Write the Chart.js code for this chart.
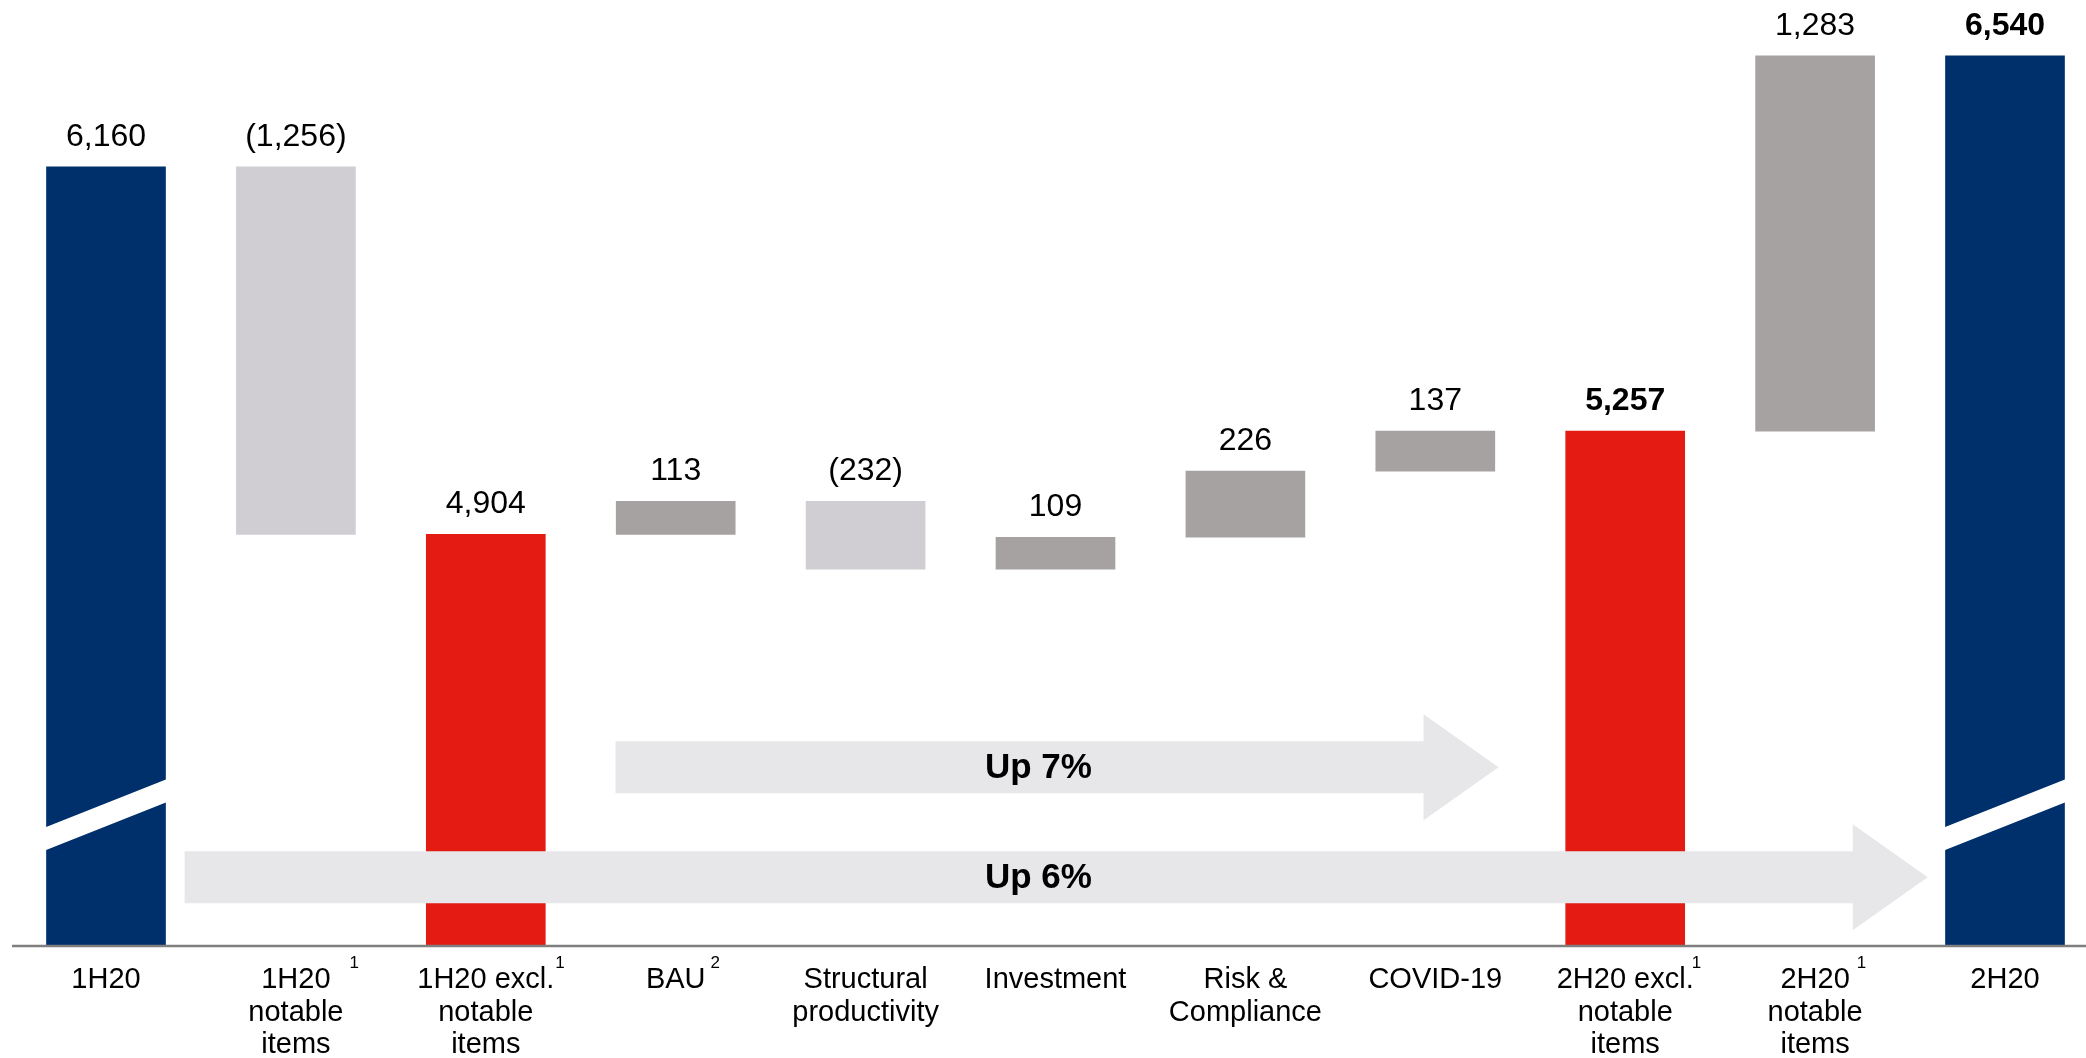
<!DOCTYPE html>
<html>
<head>
<meta charset="utf-8">
<script src="https://cdn.jsdelivr.net/npm/chart.js@4.4.1/dist/chart.umd.min.js"></script>
<style>
  html, body { margin: 0; padding: 0; background: #fff; }
  canvas { display: block; }
</style>
</head>
<body>
<canvas id="chart" width="2086" height="1058"></canvas>
<script>
// categories along the x axis (multi-line labels) and their footnote marks
const categories = [
  ['1H20'],
  ['1H20', 'notable', 'items'],
  ['1H20 excl.', 'notable', 'items'],
  ['BAU'],
  ['Structural', 'productivity'],
  ['Investment'],
  ['Risk &', 'Compliance'],
  ['COVID-19'],
  ['2H20 excl.', 'notable', 'items'],
  ['2H20', 'notable', 'items'],
  ['2H20']
]
const notes = ['', '1', '1', '2', '', '', '', '', '1', '1', '']

// totals / subtotals are levels, steps are changes
const kinds = ['total', 'step', 'subtotal', 'step', 'step', 'step', 'step', 'step', 'subtotal', 'step', 'total']
const values = [6160, -1256, 4904, 113, -232, 109, 226, 137, 5257, 1283, 6540]

// broken value axis
const axisMin = 3500
const axisMax = 6700
const breakLevel = 3945

// growth arrows, positions in category units and value units
const arrowLabels = ['Up 7%', 'Up 6%']
const arrowFrom = [2.683, 0.414]
const arrowTo = [7.333, 9.593]
const arrowLevel = [4108, 3732]
const arrowTextAt = [4.91, 4.91]

const FONT = '"Liberation Sans", Arial, sans-serif'
const NAVY = '#00306b'
const RED = '#e31b13'
const UP_GREY = '#a6a2a1'
const DOWN_GREY = '#d0ced3'
const ARROW_GREY = '#e7e6e9'

let running = 0
const ranges = values.map((v, i) => {
  if (kinds[i] !== 'step') {
    running = v
    return [axisMin, v]
  }
  const start = running
  running += v
  return [Math.min(start, running), Math.max(start, running)]
})

const colors = values.map((v, i) => {
  if (kinds[i] === 'total') return NAVY
  if (kinds[i] === 'subtotal') return RED
  return v < 0 ? DOWN_GREY : UP_GREY
})

const fmt = v => {
  const s = Math.abs(v).toLocaleString('en-US')
  return v < 0 ? '(' + s + ')' : s
}
const bold = [8, 10]
// space between label text and its footnote mark (as in the slide)
const noteGap = {1: 19, 2: 1, 3: 5, 8: -2, 9: 7}

const waterfallExtras = {
  id: 'waterfallExtras',
  afterDatasetsDraw(chart) {
    const {ctx, chartArea, scales: {x, y}} = chart
    const meta = chart.getDatasetMeta(0)
    ctx.save()

    // axis-break slashes on the full bars
    meta.data.forEach((bar, i) => {
      if (kinds[i] !== 'total') return
      const l = bar.x - bar.width / 2 - 1
      const r = bar.x + bar.width / 2 + 1
      const cy = y.getPixelForValue(breakLevel)
      ctx.fillStyle = '#ffffff'
      ctx.beginPath()
      ctx.moveTo(l, cy + 24 - 11.5)
      ctx.lineTo(r, cy - 24 - 11.5)
      ctx.lineTo(r, cy - 24 + 11.5)
      ctx.lineTo(l, cy + 24 + 11.5)
      ctx.closePath()
      ctx.fill()
    })

    // arrows
    arrowLabels.forEach((text, k) => {
      const x0 = x.getPixelForValue(arrowFrom[k])
      const x1 = x.getPixelForValue(arrowTo[k])
      const cy = y.getPixelForValue(arrowLevel[k])
      const body = 26, head = 53, headLen = 75
      ctx.fillStyle = ARROW_GREY
      ctx.beginPath()
      ctx.moveTo(x0, cy - body)
      ctx.lineTo(x1 - headLen, cy - body)
      ctx.lineTo(x1 - headLen, cy - head)
      ctx.lineTo(x1, cy)
      ctx.lineTo(x1 - headLen, cy + head)
      ctx.lineTo(x1 - headLen, cy + body)
      ctx.lineTo(x0, cy + body)
      ctx.closePath()
      ctx.fill()
      ctx.fillStyle = '#000'
      ctx.font = 'bold 35px ' + FONT
      ctx.textAlign = 'center'
      ctx.textBaseline = 'middle'
      ctx.fillText(text, x.getPixelForValue(arrowTextAt[k]), cy + 1)
    })

    // value labels
    meta.data.forEach((bar, i) => {
      const top = y.getPixelForValue(ranges[i][1])
      ctx.fillStyle = '#000'
      ctx.font = (bold.includes(i) ? 'bold ' : '') + '32px ' + FONT
      ctx.textAlign = 'center'
      ctx.textBaseline = 'middle'
      ctx.fillText(fmt(values[i]), bar.x, top - 30)
    })

    // baseline
    ctx.strokeStyle = '#7f7f7f'
    ctx.lineWidth = 2.5
    ctx.beginPath()
    ctx.moveTo(12, chartArea.bottom + 1)
    ctx.lineTo(chart.width, chartArea.bottom + 1)
    ctx.stroke()

    // footnote marks next to first label line
    ctx.textAlign = 'left'
    ctx.textBaseline = 'middle'
    notes.forEach((n, i) => {
      if (!n) return
      const line = categories[i][0]
      ctx.font = '29px ' + FONT
      const w = ctx.measureText(line).width
      ctx.font = '17px ' + FONT
      ctx.fillStyle = '#000'
      ctx.fillText(n, x.getPixelForTick(i) + w / 2 + (noteGap[i] || 0), chartArea.bottom + 18)
    })
    ctx.restore()
  }
}

new Chart(document.getElementById('chart'), {
  type: 'bar',
  data: {
    labels: categories,
    datasets: [{
      data: ranges,
      backgroundColor: colors,
      borderWidth: 0,
      barThickness: 119,
      clip: false
    }]
  },
  options: {
    responsive: false,
    animation: false,
    layout: {padding: {left: 106, right: 81, top: 9, bottom: 0}},
    plugins: {
      legend: {display: false},
      tooltip: {enabled: false}
    },
    scales: {
      x: {
        offset: false,
        grid: {display: false, drawTicks: false},
        border: {display: false},
        ticks: {
          color: '#000',
          padding: 19,
          maxRotation: 0,
          autoSkip: false,
          font: {family: FONT, size: 29, lineHeight: 1.12}
        },
        afterFit: scale => { scale.height = 113 }
      },
      y: {
        display: false,
        min: axisMin,
        max: axisMax
      }
    }
  },
  plugins: [waterfallExtras]
})
</script>
</body>
</html>
